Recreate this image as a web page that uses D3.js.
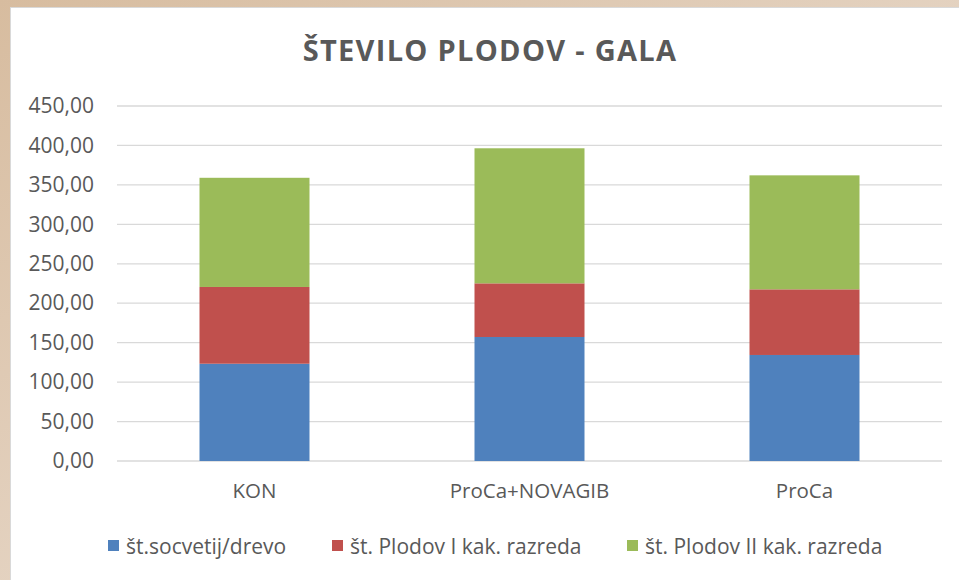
<!DOCTYPE html>
<html>
<head>
<meta charset="utf-8">
<script src="https://cdn.jsdelivr.net/npm/d3@7"></script>
<style>
  body { margin: 0; }
  svg { display: block; font-family: "Open Sans", sans-serif; }
</style>
</head>
<body>
<div id="chart-area"></div>
<script>
const categories = ["KON", "ProCa+NOVAGIB", "ProCa"];
const seriesNames = ["št.socvetij/drevo", "št. Plodov I kak. razreda", "št. Plodov II kak. razreda"];
const socvetij = [123.3, 157.2, 134.4];
const plodovI = [97.3, 68.0, 83.2];
const plodovII = [138.4, 171.2, 144.5];
const yTicks = [0, 50, 100, 150, 200, 250, 300, 350, 400, 450];
const colors = ["#4f81bd", "#c0504d", "#9bbb59"];

const drawChart = () => {
  const size = { width: 959, height: 580 };
  const margin = { left: 117, right: 17, top: 106, bottom: 119 };
  const width = size.width - margin.left - margin.right;
  const height = size.height - margin.top - margin.bottom;

  const svg = d3.select("#chart-area").append("svg")
    .attr("width", size.width)
    .attr("height", size.height);

  // beige slide background with white chart panel
  const defs = svg.append("defs");
  const grad = defs.append("linearGradient").attr("id", "bg")
    .attr("x1", 0).attr("y1", 0).attr("x2", 1).attr("y2", 1);
  grad.append("stop").attr("offset", "0%").attr("stop-color", "#d7bc9f");
  grad.append("stop").attr("offset", "60%").attr("stop-color", "#e6d6c6");
  grad.append("stop").attr("offset", "100%").attr("stop-color", "#bdb8b3");
  svg.append("rect").attr("width", size.width).attr("height", size.height).attr("fill", "url(#bg)");
  svg.append("rect")
    .attr("x", 10.5).attr("y", 7.5)
    .attr("width", size.width).attr("height", size.height)
    .attr("fill", "#ffffff").attr("stroke", "#d9d9d9");

  svg.append("text")
    .text("ŠTEVILO PLODOV - GALA")
    .attr("x", 490).attr("y", 61)
    .attr("text-anchor", "middle")
    .attr("font-size", 29).attr("font-weight", "bold")
    .attr("letter-spacing", 1.3)
    .attr("fill", "#595959");

  const g = svg.append("g").attr("transform", `translate(${margin.left}, ${margin.top})`);

  const x = d3.scaleBand().domain(categories).range([0, width]).paddingInner(0.6).paddingOuter(0.3);
  const y = d3.scaleLinear().domain([0, 450]).range([height, 0]);

  g.append("g").attr("class", "grid")
    .selectAll("line").data(yTicks).join("line")
    .attr("x1", 0).attr("x2", width)
    .attr("y1", d => y(d)).attr("y2", d => y(d))
    .attr("stroke", "#d9d9d9").attr("stroke-width", 1.3);

  const yAxis = d3.axisLeft(y).tickValues(yTicks)
    .tickFormat(d => d3.format(".2f")(d).replace(".", ","))
    .tickSize(0).tickPadding(23);
  g.append("g").call(yAxis)
    .call(a => a.select(".domain").remove())
    .selectAll("text").attr("font-size", 21).attr("fill", "#595959")
    .attr("font-family", "Open Sans, sans-serif");

  const xAxis = d3.axisBottom(x).tickSize(0).tickPadding(22);
  g.append("g").attr("transform", `translate(0, ${height})`).call(xAxis)
    .call(a => a.select(".domain").remove())
    .selectAll("text").attr("font-size", 20.5).attr("fill", "#595959")
    .attr("font-family", "Open Sans, sans-serif");

  const table = categories.map((c, i) => ({ cat: c, s0: socvetij[i], s1: plodovI[i], s2: plodovII[i] }));
  const stacked = d3.stack().keys(["s0", "s1", "s2"])(table);

  g.selectAll(".series").data(stacked).join("g")
    .attr("class", "series")
    .attr("fill", (d, i) => colors[i])
    .selectAll("rect").data(d => d).join("rect")
    .attr("x", d => x(d.data.cat))
    .attr("y", d => y(d[1]))
    .attr("width", x.bandwidth())
    .attr("height", d => y(d[0]) - y(d[1]));

  // legend
  const legendX = [108, 332, 627];
  const legend = svg.append("g").selectAll("g").data(seriesNames).join("g")
    .attr("transform", (d, i) => `translate(${legendX[i]}, 546)`);
  legend.append("rect").attr("x", 0).attr("y", -6).attr("width", 11).attr("height", 11)
    .attr("fill", (d, i) => colors[i]);
  legend.append("text").text(d => d)
    .attr("x", 18).attr("y", 7.5)
    .attr("font-size", 21).attr("fill", "#595959");
};

window.onload = drawChart;
</script>
</body>
</html>
